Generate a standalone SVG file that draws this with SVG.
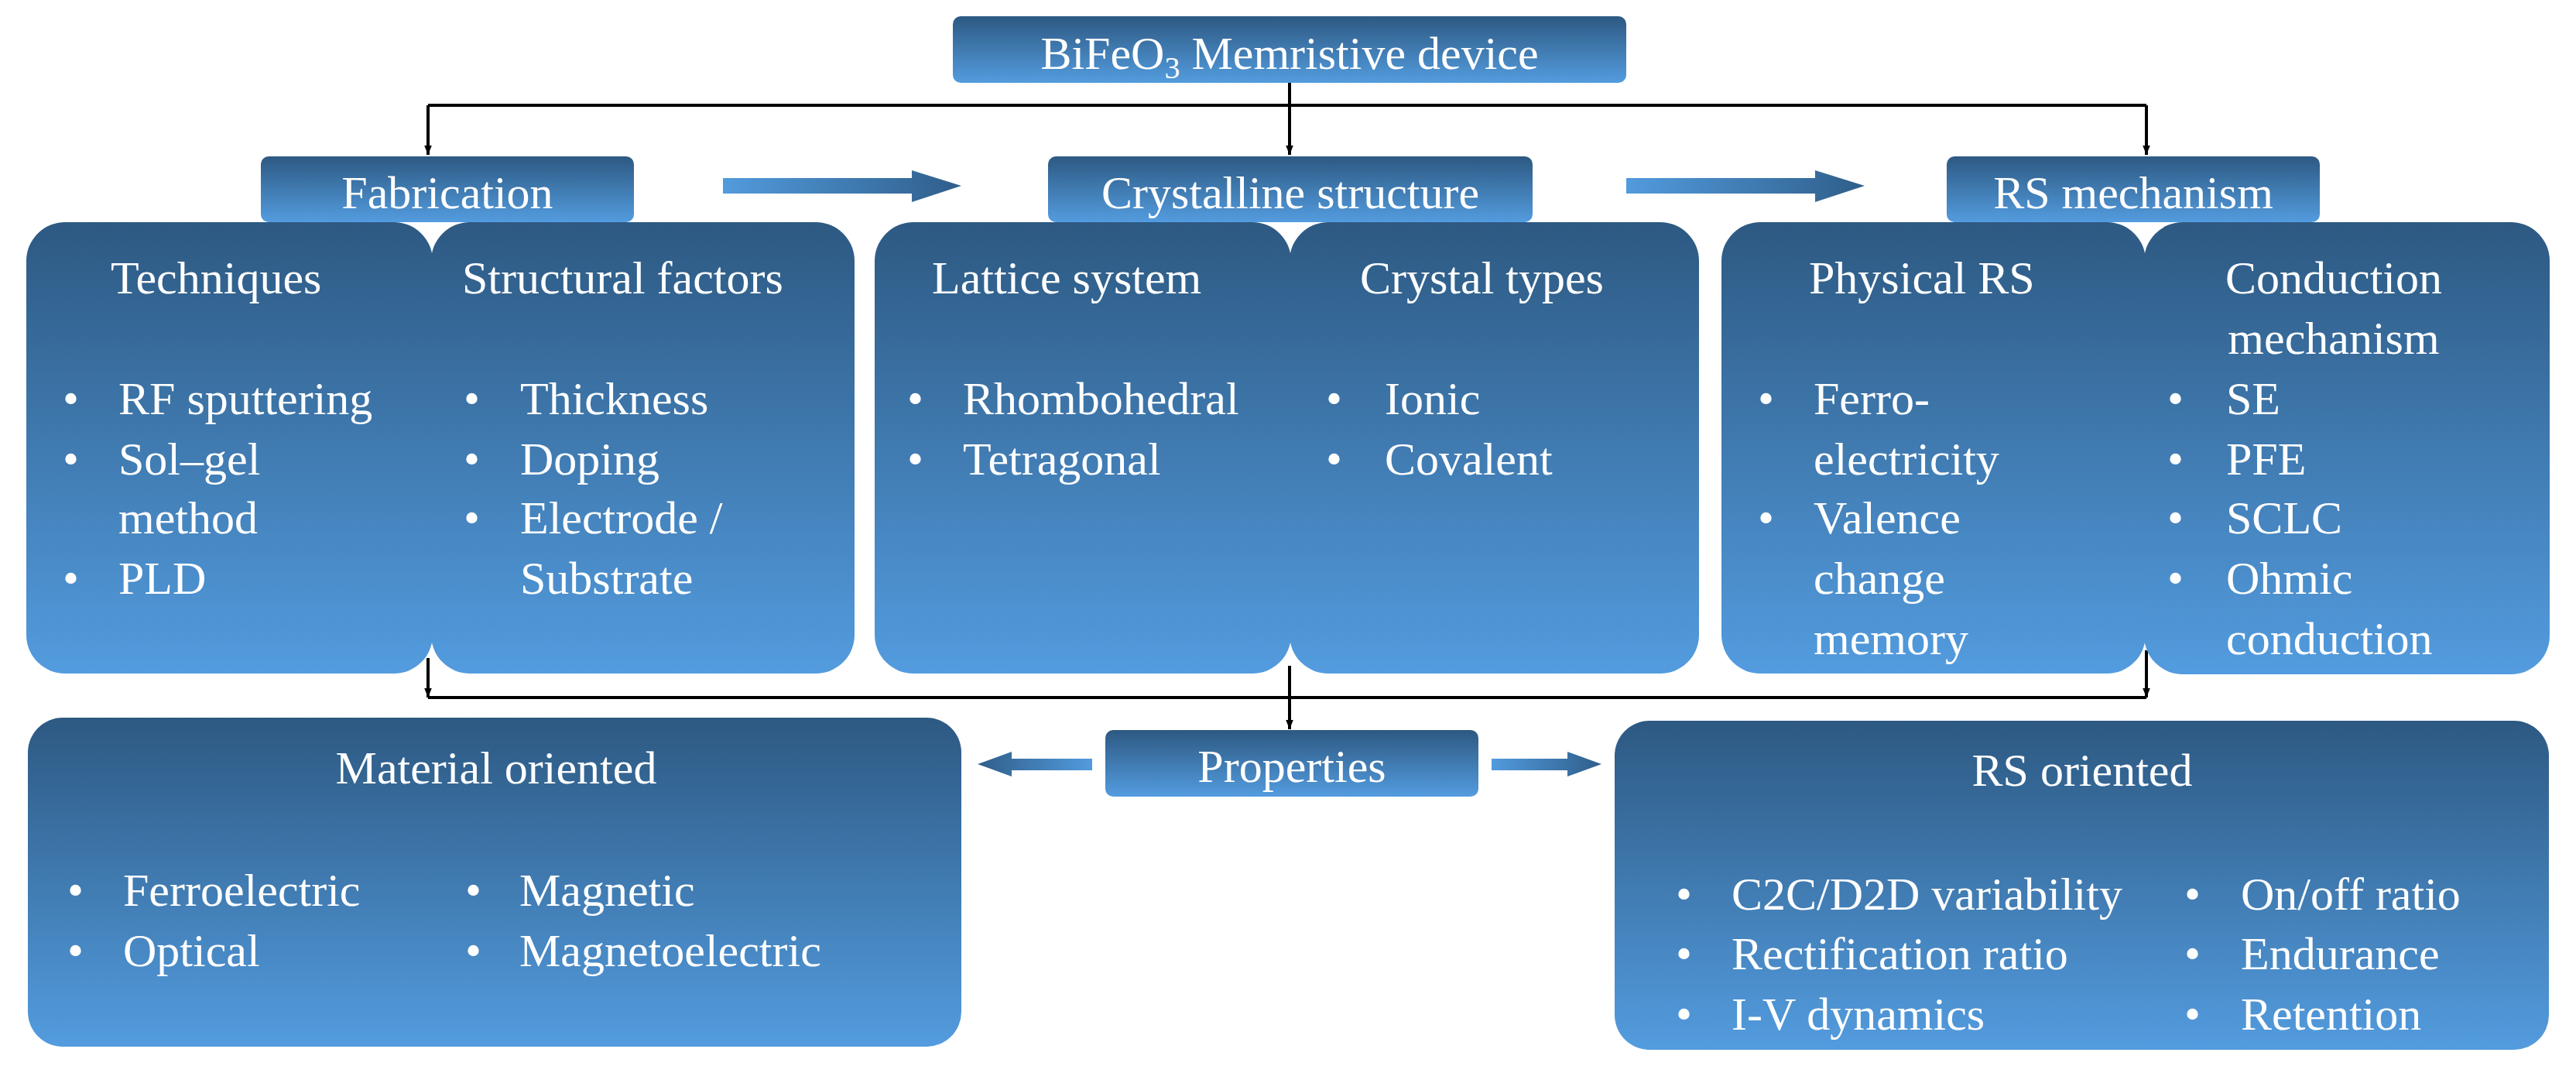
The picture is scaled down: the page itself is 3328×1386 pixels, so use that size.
<svg xmlns="http://www.w3.org/2000/svg" width="3328" height="1386" viewBox="0 0 3328 1386">
<defs>
<linearGradient id="gv" x1="0" y1="0" x2="0" y2="1"><stop offset="0" stop-color="#2D5982"/><stop offset="1" stop-color="#539CDF"/></linearGradient>
<linearGradient id="gh" x1="0" y1="0" x2="1" y2="0"><stop offset="0" stop-color="#529BDD"/><stop offset="1" stop-color="#2F5E8A"/></linearGradient>
<linearGradient id="ghl" x1="1" y1="0" x2="0" y2="0"><stop offset="0" stop-color="#529BDD"/><stop offset="1" stop-color="#2F5E8A"/></linearGradient>
<marker id="ah" viewBox="0 0 10 10" refX="10" refY="5" markerWidth="12" markerHeight="12" markerUnits="userSpaceOnUse" orient="auto"><path d="M0,1 L10,5 L0,9 z" fill="#000"/></marker>
</defs>
<style>
.box{fill:url(#gv)}
.t{font-family:"Liberation Serif","Times New Roman",serif;fill:#fff;font-size:60px}
.c{text-anchor:middle}
.ln{stroke:#000;stroke-width:4;fill:none}
.la{stroke:#000;stroke-width:4;fill:none;marker-end:url(#ah)}
</style>
<rect width="3328" height="1386" fill="#fff"/>

<g id="connectors">
<line class="ln" x1="553" y1="136" x2="2773" y2="136"/>
<line class="ln" x1="1666" y1="107" x2="1666" y2="136"/>
<line class="la" x1="553" y1="136" x2="553" y2="200"/>
<line class="la" x1="1666" y1="136" x2="1666" y2="200"/>
<line class="la" x1="2773" y1="136" x2="2773" y2="200"/>
<line class="ln" x1="553" y1="901" x2="2773" y2="901"/>
<line class="la" x1="553" y1="850" x2="553" y2="901"/>
<line class="la" x1="2773" y1="840" x2="2773" y2="901"/>
<line class="la" x1="1666" y1="860" x2="1666" y2="942"/>
<path d="M934,230 H1178 V220 L1242,240 L1178,261 V250 H934 z" fill="url(#gh)"/>
<path d="M2101,230 H2345 V220 L2409,240 L2345,261 V250 H2101 z" fill="url(#gh)"/>
<path d="M1927,980 H2025 V971 L2069,987 L2025,1003 V995 H1927 z" fill="url(#gh)"/>
<path d="M1411,980 H1307 V971 L1263,987 L1307,1003 V995 H1411 z" fill="url(#ghl)"/>
</g>

<g id="top"><rect class="box" x="1231" y="21" width="870" height="86" rx="10"/>
<text class="t c" x="1666" y="89">BiFeO<tspan font-size="40" dy="12">3</tspan><tspan dy="-12"> Memristive device</tspan></text></g>

<g id="techniques"><rect class="box" x="34" y="287" width="525" height="583" rx="50"/>
<text class="t" x="143" y="379">Techniques</text>
<text class="t" x="81" y="535">•</text><text class="t" x="153" y="535">RF sputtering</text>
<text class="t" x="81" y="613">•</text><text class="t" x="153" y="613">Sol–gel</text>
<text class="t" x="153" y="689">method</text>
<text class="t" x="81" y="767">•</text><text class="t" x="153" y="767">PLD</text></g>

<g id="structural"><rect class="box" x="557" y="287" width="547" height="583" rx="50"/>
<text class="t" x="597" y="379">Structural factors</text>
<text class="t" x="599" y="535">•</text><text class="t" x="672" y="535">Thickness</text>
<text class="t" x="599" y="613">•</text><text class="t" x="672" y="613">Doping</text>
<text class="t" x="599" y="689">•</text><text class="t" x="672" y="689">Electrode /</text>
<text class="t" x="672" y="767">Substrate</text></g>

<g id="fabrication"><rect class="box" x="337" y="202" width="482" height="85" rx="10"/>
<text class="t c" x="578" y="269">Fabrication</text></g>

<g id="lattice"><rect class="box" x="1130" y="287" width="538" height="583" rx="50"/>
<text class="t" x="1204" y="379">Lattice system</text>
<text class="t" x="1172" y="535">•</text><text class="t" x="1244" y="535">Rhombohedral</text>
<text class="t" x="1172" y="613">•</text><text class="t" x="1244" y="613">Tetragonal</text></g>

<g id="crystaltypes"><rect class="box" x="1666" y="287" width="529" height="583" rx="50"/>
<text class="t" x="1757" y="379">Crystal types</text>
<text class="t" x="1713" y="535">•</text><text class="t" x="1789" y="535">Ionic</text>
<text class="t" x="1713" y="613">•</text><text class="t" x="1789" y="613">Covalent</text></g>

<g id="crystalline"><rect class="box" x="1354" y="202" width="626" height="85" rx="10"/>
<text class="t c" x="1667" y="269">Crystalline structure</text></g>

<g id="physical"><rect class="box" x="2224" y="287" width="548" height="583" rx="50"/>
<text class="t" x="2337" y="379">Physical RS</text>
<text class="t" x="2271" y="535">•</text><text class="t" x="2343" y="535">Ferro-</text>
<text class="t" x="2343" y="613">electricity</text>
<text class="t" x="2271" y="689">•</text><text class="t" x="2343" y="689">Valence</text>
<text class="t" x="2343" y="767">change</text>
<text class="t" x="2343" y="845">memory</text></g>

<g id="conduction"><rect class="box" x="2770" y="287" width="524" height="584" rx="50"/>
<text class="t c" x="3015" y="379">Conduction</text>
<text class="t c" x="3015" y="457">mechanism</text>
<text class="t" x="2800" y="535">•</text><text class="t" x="2876" y="535">SE</text>
<text class="t" x="2800" y="613">•</text><text class="t" x="2876" y="613">PFE</text>
<text class="t" x="2800" y="689">•</text><text class="t" x="2876" y="689">SCLC</text>
<text class="t" x="2800" y="767">•</text><text class="t" x="2876" y="767">Ohmic</text>
<text class="t" x="2876" y="845">conduction</text></g>

<g id="rsmechanism"><rect class="box" x="2515" y="202" width="482" height="85" rx="10"/>
<text class="t c" x="2756" y="269">RS mechanism</text></g>

<g id="properties"><rect class="box" x="1428" y="943" width="482" height="86" rx="10"/>
<text class="t c" x="1669" y="1010">Properties</text></g>

<g id="material"><rect class="box" x="36" y="927" width="1206" height="425" rx="45"/>
<text class="t c" x="641" y="1012">Material oriented</text>
<text class="t" x="87" y="1170">•</text><text class="t" x="159" y="1170">Ferroelectric</text>
<text class="t" x="87" y="1248">•</text><text class="t" x="159" y="1248">Optical</text>
<text class="t" x="601" y="1170">•</text><text class="t" x="671" y="1170">Magnetic</text>
<text class="t" x="601" y="1248">•</text><text class="t" x="671" y="1248">Magnetoelectric</text></g>

<g id="rsoriented"><rect class="box" x="2086" y="931" width="1207" height="425" rx="45"/>
<text class="t c" x="2690" y="1015">RS oriented</text>
<text class="t" x="2165" y="1175">•</text><text class="t" x="2237" y="1175">C2C/D2D variability</text>
<text class="t" x="2165" y="1252">•</text><text class="t" x="2237" y="1252">Rectification ratio</text>
<text class="t" x="2165" y="1330">•</text><text class="t" x="2237" y="1330">I-V dynamics</text>
<text class="t" x="2822" y="1175">•</text><text class="t" x="2895" y="1175">On/off ratio</text>
<text class="t" x="2822" y="1252">•</text><text class="t" x="2895" y="1252">Endurance</text>
<text class="t" x="2822" y="1330">•</text><text class="t" x="2895" y="1330">Retention</text></g>
</svg>
